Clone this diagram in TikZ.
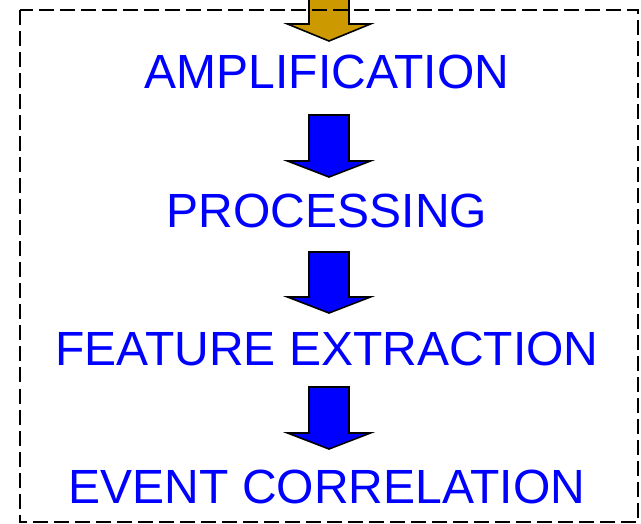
\documentclass[tikz,border=0pt]{standalone}
\usepackage{fontspec}
\setmainfont{Liberation Sans}
\usepackage{tikz}
\usetikzlibrary{positioning}

\begin{document}
\begin{tikzpicture}[x=1pt, y=-1pt]
				\tikzstyle{Stage}	= [anchor=base, inner sep=0pt, text=blue, font=\fontsize{48}{57}\selectfont]
				\tikzstyle{Block}	= [draw=black, line width=1.6pt, line join=miter]
				\tikzstyle{Gold}	= [fill={rgb,255:red,204;green,153;blue,0}]
				\tikzstyle{Blue}	= [fill=blue]
				\tikzstyle{Frame}	= [draw=black, line width=2pt, dash pattern=on 15pt off 6pt]

				\clip (0,0) rectangle (641,524);

				\node (amp) at (327, 89) [Stage] {AMPLIFICATION};
				\node (proc) at (327, 228) [Stage] {PROCESSING};
				\node (feat) at (327, 366) [Stage] {FEATURE EXTRACTION};
				\node (event) at (327, 503) [Stage] {EVENT CORRELATION};

				\coordinate (a0) at (329, -30);
				\coordinate (a1) at (329, 115);
				\coordinate (a2) at (329, 252);
				\coordinate (a3) at (329, 387);

				% block arrows: shaft then head, from the top centre down
				\draw [Block][Gold] (a0) ++(-20,0) -- ++(0,54) -- ++(-21.5,0) -- ++(41.5,17) -- ++(41.5,-17) -- ++(-21.5,0) -- ++(0,-54) -- cycle;
				\draw [Block][Blue] (a1) ++(-20,0) -- ++(0,46) -- ++(-21.5,0) -- ++(41.5,16) -- ++(41.5,-16) -- ++(-21.5,0) -- ++(0,-46) -- cycle;
				\draw [Block][Blue] (a2) ++(-20,0) -- ++(0,45) -- ++(-21.5,0) -- ++(41.5,16) -- ++(41.5,-16) -- ++(-21.5,0) -- ++(0,-45) -- cycle;
				\draw [Block][Blue] (a3) ++(-20,0) -- ++(0,46) -- ++(-21.5,0) -- ++(41.5,16) -- ++(41.5,-16) -- ++(-21.5,0) -- ++(0,-46) -- cycle;

				\draw [Frame] (19.5,10.5) rectangle (638,522);
			\end{tikzpicture}
\end{document}
